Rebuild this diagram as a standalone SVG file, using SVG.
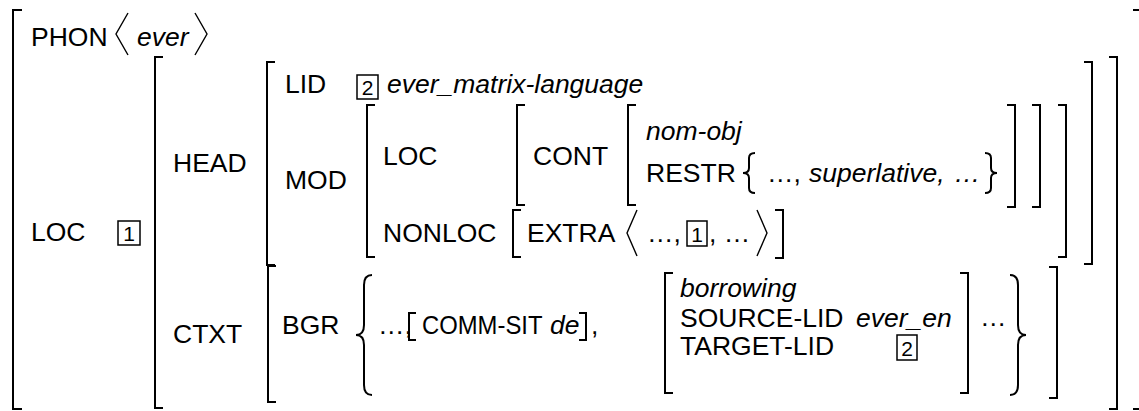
<svg xmlns="http://www.w3.org/2000/svg" width="1139" height="411" viewBox="0 0 1139 411">
<style>
text{font-family:"Liberation Sans",Arial,sans-serif;font-size:26.5px;fill:#000}
.i{font-style:italic}
.n{font-size:21px;text-anchor:middle}
.b,.br{fill:none;stroke:#000;stroke-width:2}
.ang{fill:none;stroke:#000;stroke-width:1.4}
.box{fill:none;stroke:#000;stroke-width:1.5}
</style>
<rect width="1139" height="411" fill="#fff"/>
<g id="brackets">
<path class="b" d="M22 10H13V409H22"/>
<path class="b" d="M163 57H155V408H163"/>
<path class="b" d="M275 62H267V265H275"/>
<path class="b" d="M276 266H268V402H276"/>
<path class="b" d="M375 105H367V257H375"/>
<path class="b" d="M525 105H517V205H525"/>
<path class="b" d="M636 105H628V205H636"/>
<path class="b" d="M1007 105H1015V207H1007"/>
<path class="b" d="M1032 105H1040V207H1032"/>
<path class="b" d="M1058 105H1066V257H1058"/>
<path class="b" d="M1084 62H1092V264H1084"/>
<path class="b" d="M1049 267H1057V398H1049"/>
<path class="b" d="M1109 57H1117V409H1109"/>
<path class="b" d="M1133 10H1141V409H1133"/>
</g>
<g id="phon">
<text x="31" y="46">PHON</text>
<path class="ang" d="M128 13L116 34L128 55"/>
<text class="i" x="137" y="46">ever</text>
<path class="ang" d="M195 13L207 34L195 55"/>
</g>
<g id="loc-outer">
<text x="31" y="241">LOC</text>
<rect class="box" x="118" y="221" width="22" height="24"/>
<text class="n" x="129" y="241">1</text>
</g>
<g id="head">
<text x="173" y="172">HEAD</text>
<text x="285" y="93">LID</text>
<rect class="box" x="357" y="75" width="21" height="24"/>
<text class="n" x="367.5" y="95">2</text>
<text class="i" x="387" y="93">ever_matrix-language</text>
<text x="285" y="189">MOD</text>
<text x="383" y="165">LOC</text>
<text x="533" y="165">CONT</text>
<text class="i" x="646" y="140">nom-obj</text>
<text x="646" y="182">RESTR</text>
<path class="br" d="M755 153Q749 153 749 158V168Q749 173 743 173Q749 173 749 178V188Q749 193 755 193"/>
<text x="767" y="182">…,</text>
<text class="i" x="809" y="182">superlative,</text>
<text class="i" x="954" y="182">…</text>
<path class="br" d="M985 153Q991 153 991 158V168Q991 173 997 173Q991 173 991 178V188Q991 193 985 193"/>
<text x="383" y="242">NONLOC</text>
<path class="b" d="M521 210H513V257H521"/>
<text x="527" y="242">EXTRA</text>
<path class="ang" d="M637 210L627 233L637 256"/>
<text x="647" y="242">…,</text>
<rect class="box" x="687" y="221" width="20" height="25"/>
<text class="n" x="697" y="242">1</text>
<text x="709" y="242">, …</text>
<path class="ang" d="M757 210L767 233L757 256"/>
<path class="b" d="M775 210H783V258H775"/>
</g>
<g id="ctxt">
<text x="173" y="343">CTXT</text>
<text x="282" y="334">BGR</text>
<path class="br" d="M372 275Q364 275 364 285V325Q364 335 356 335Q364 335 364 345V385Q364 395 372 395"/>
<text x="378" y="334">…,</text>
<path class="b" d="M416 313H409V340H416"/>
<text transform="translate(422 334) scale(0.9 1)">COMM-SIT</text>
<text class="i" x="550" y="334">de</text>
<path class="b" d="M579 313H586V340H579"/>
<text x="591" y="334">,</text>
<path class="b" d="M673 273H665V393H673"/>
<text class="i" x="680" y="297">borrowing</text>
<text x="680" y="327">SOURCE-LID</text>
<text class="i" x="856" y="327">ever_en</text>
<text x="680" y="355">TARGET-LID</text>
<rect class="box" x="897" y="335" width="20" height="25"/>
<text class="n" x="907" y="356">2</text>
<path class="b" d="M960 273H968V393H960"/>
<text x="980" y="326">…</text>
<path class="br" d="M1010 275Q1018 275 1018 285V325Q1018 335 1026 335Q1018 335 1018 345V385Q1018 395 1010 395"/>
</g>
</svg>
